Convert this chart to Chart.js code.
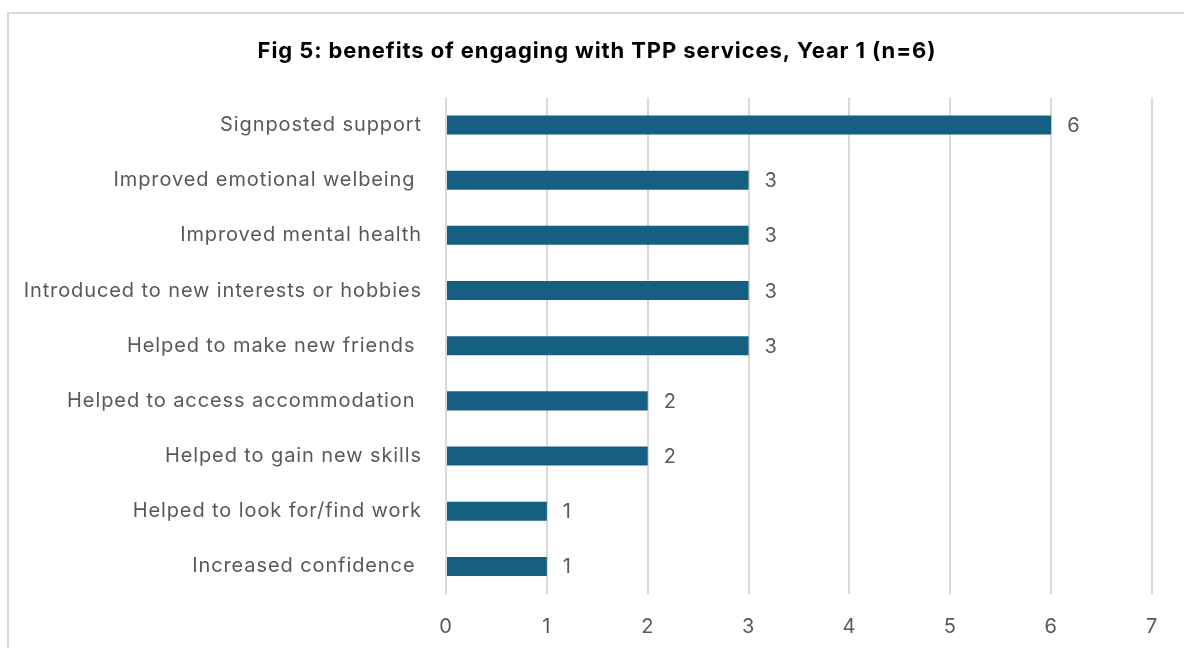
<!DOCTYPE html>
<html>
<head>
<meta charset="utf-8">
<script src="https://cdn.jsdelivr.net/npm/chart.js@4"></script>
<style>
  html, body { margin: 0; padding: 0; background: #ffffff; overflow: hidden; }
  #frame {
    position: absolute; left: 7px; top: 12px; width: 1200px; height: 700px;
    border: 2px solid #d9d9d9; box-sizing: border-box;
  }
  #wrap { position: absolute; left: 0; top: 0; width: 1184px; height: 648px; }
</style>
</head>
<body>
<div id="frame"></div>
<div id="wrap"><canvas id="benefitsChart" width="1184" height="648"></canvas></div>
<script>
// Benefits reported by participants (n=6)
const benefitLabels = [
    'Signposted support',
    'Improved emotional welbeing ',
    'Improved mental health',
    'Introduced to new interests or hobbies',
    'Helped to make new friends ',
    'Helped to access accommodation ',
    'Helped to gain new skills',
    'Helped to look for/find work',
    'Increased confidence '
];
const benefitCounts = [6, 3, 3, 3, 3, 2, 2, 1, 1];
const xTicks = [0, 1, 2, 3, 4, 5, 6, 7];

const labelFont = "Inter, 'Liberation Sans', Arial, sans-serif";
const textGrey = '#595959';

// Inter runs a little tight, open it up before anything is painted
const widenText = {
    id: 'widenText',
    beforeDraw(chart) {
        chart.ctx.letterSpacing = '0.9px';
    }
};

// Title sits centred inside the framed box, not the whole canvas
const shiftTitle = {
    id: 'shiftTitle',
    afterLayout(chart) {
        if (chart.titleBlock) chart.titleBlock.left = 42;
    }
};

// Small inline plugin to write each count just past the end of its bar
const valueLabels = {
    id: 'valueLabels',
    afterDatasetsDraw(chart) {
        const ctx = chart.ctx;
        const meta = chart.getDatasetMeta(0);
        ctx.save();
        ctx.font = '20px ' + labelFont;
        ctx.fillStyle = textGrey;
        ctx.textAlign = 'left';
        ctx.textBaseline = 'middle';
        meta.data.forEach((bar, i) => {
            ctx.fillText(String(benefitCounts[i]), bar.x + 16, bar.y + 1);
        });
        ctx.restore();
    }
};

const ctx = document.getElementById('benefitsChart').getContext('2d');
new Chart(ctx, {
    type: 'bar',
    data: {
        labels: benefitLabels,
        datasets: [{
            data: benefitCounts,
            backgroundColor: '#156082',
            borderWidth: 0,
            barPercentage: 0.69,
            categoryPercentage: 0.5
        }]
    },
    options: {
        indexAxis: 'y',
        responsive: false,
        animation: false,
        layout: { padding: { left: 0, right: 32, top: 0, bottom: 0 } },
        plugins: {
            legend: { display: false },
            tooltip: { enabled: false },
            title: {
                display: true,
                text: 'Fig 5: benefits of engaging with TPP services, Year 1 (n=6)',
                color: '#000000',
                font: { family: labelFont, size: 22, weight: 'bold' },
                padding: { top: 38, bottom: 33 }
            }
        },
        scales: {
            x: {
                min: 0,
                max: 7,
                afterBuildTicks(axis) {
                    axis.ticks = xTicks.map(v => ({ value: v }));
                },
                afterFit(axis) { axis.height = 54; },
                grid: { color: '#d9d9d9', lineWidth: 2, drawTicks: false },
                border: { display: false },
                ticks: {
                    color: textGrey,
                    font: { family: labelFont, size: 20 },
                    padding: 21
                }
            },
            y: {
                afterFit(axis) { axis.width = 446; },
                grid: { display: false, drawTicks: false },
                border: { display: false },
                ticks: {
                    color: textGrey,
                    font: { family: labelFont, size: 20 },
                    padding: 24,
                    autoSkip: false
                }
            }
        }
    },
    plugins: [widenText, shiftTitle, valueLabels]
});
</script>
</body>
</html>
